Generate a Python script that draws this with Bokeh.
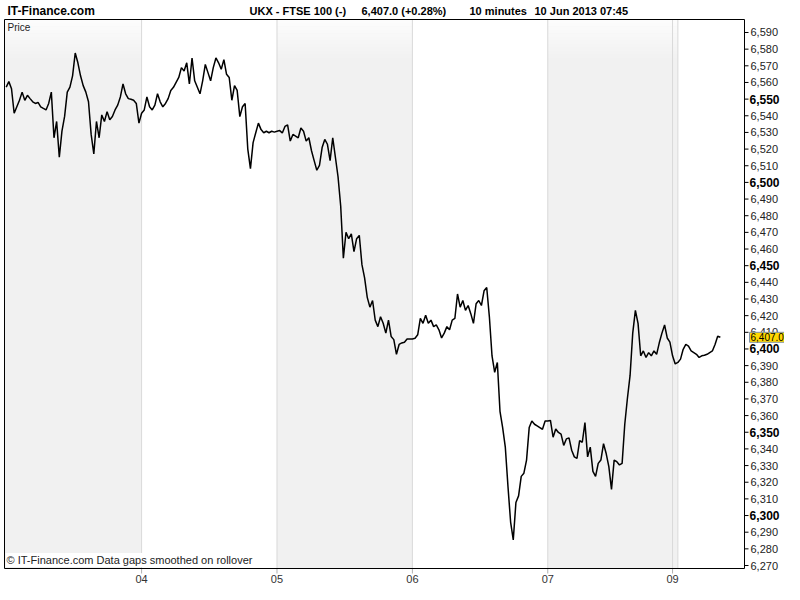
import numpy as np
from bokeh.plotting import figure
from bokeh.models import Range1d
from bokeh.embed import file_html
from bokeh.resources import INLINE
from bokeh.core.properties import value

# ---------------- data (10-minute closes, FTSE 100) ----------------
day_labels = ["03", "04", "05", "06", "07", "09", "10"]

day03 = [6557.2, 6560.5, 6556.2, 6541.5, 6545.4, 6549.3, 6554.2, 6549.3, 6552.3, 6550.3,
         6548.4, 6547.4, 6548.0, 6545.4, 6544.4, 6543.5, 6547.4, 6554.2, 6526.8, 6536.6,
         6515.1, 6530.8, 6539.6, 6554.2, 6557.2, 6564.0, 6577.7, 6571.8, 6564.0, 6558.1,
         6554.2, 6548.4, 6528.8, 6517.1, 6536.6, 6526.8, 6540.5, 6536.6, 6542.5, 6537.6,
         6539.6, 6543.5, 6546.4, 6551.3, 6559.1, 6553.2, 6550.3, 6549.9, 6549.3, 6547.4,
         6535.6]
day04 = [6541.5, 6543.5, 6551.3, 6545.4, 6543.5, 6546.4, 6553.2, 6548.4, 6545.4, 6547.4,
         6550.3, 6555.2, 6557.1, 6560.1, 6563.0, 6568.9, 6566.9, 6571.8, 6559.1, 6574.7,
         6561.0, 6557.1, 6553.2, 6561.0, 6570.8, 6565.9, 6561.0, 6568.9, 6574.7, 6571.8,
         6567.9, 6573.7, 6564.9, 6563.0, 6549.3, 6558.1, 6555.2, 6539.5, 6545.4, 6547.4,
         6520.0, 6508.3, 6523.9, 6529.8, 6535.6, 6531.7, 6529.8, 6530.7, 6529.8, 6530.7,
         6530.2]
day05 = [6530.7, 6531.1, 6529.7, 6533.6, 6534.6, 6524.8, 6528.8, 6527.8, 6526.8, 6532.7,
         6530.7, 6524.8, 6526.8, 6519.0, 6513.1, 6507.3, 6510.2, 6520.9, 6525.8, 6522.9,
         6513.1, 6526.8, 6515.1, 6503.3, 6485.7, 6454.5, 6470.1, 6466.2, 6469.1, 6458.4,
         6466.2, 6468.2, 6450.6, 6442.7, 6431.0, 6425.1, 6429.1, 6417.3, 6413.4, 6419.3,
         6415.4, 6409.5, 6417.3, 6407.5, 6405.6, 6396.8, 6402.7, 6403.6, 6404.0, 6406.0,
         6406.0]
day06 = [6406.0, 6406.4, 6408.5, 6418.3, 6415.4, 6420.3, 6415.4, 6417.3, 6413.4, 6414.4,
         6411.5, 6406.6, 6409.5, 6413.4, 6411.5, 6417.3, 6418.3, 6433.0, 6425.1, 6429.1,
         6423.2, 6426.1, 6421.2, 6415.4, 6427.1, 6429.1, 6426.1, 6434.9, 6436.9, 6419.3,
         6395.8, 6386.0, 6391.9, 6362.6, 6352.8, 6341.1, 6317.6, 6296.1, 6285.4, 6307.8,
         6311.8, 6323.5, 6325.4, 6333.3, 6352.8, 6356.7, 6354.8, 6353.8, 6352.8, 6351.8,
         6356.7]
day07 = [6356.8, 6357.1, 6347.0, 6351.9, 6349.9, 6348.9, 6342.1, 6346.0, 6346.6, 6339.2,
         6335.2, 6334.3, 6345.0, 6344.0, 6355.8, 6335.2, 6341.1, 6326.5, 6323.5, 6331.3,
         6333.3, 6343.1, 6337.2, 6329.4, 6315.7, 6333.3, 6332.3, 6330.4, 6331.3, 6354.8,
         6370.4, 6384.1, 6409.5, 6423.2, 6415.4, 6395.9, 6398.8, 6394.9, 6397.8, 6395.9,
         6398.8, 6396.8, 6403.7, 6409.5, 6414.4, 6406.6, 6404.1]
day09 = [6395.9, 6391.0]
day10 = [6391.9, 6393.9, 6399.8, 6402.7, 6401.7, 6398.8, 6397.8, 6396.8, 6394.9, 6395.9,
         6396.2, 6396.8, 6397.8, 6398.8, 6402.7, 6407.6, 6407.0]

shaded_days = ["03", "05", "07", "09"]
tick_days = ["04", "05", "06", "07", "09"]
y_ticks = list(range(6270, 6600, 10))
bold_ticks = [6300, 6350, 6400, 6450, 6500, 6550]
last_price = 6407.0

header_site = "IT-Finance.com"
header_parts = ["UKX - FTSE 100 (-)", "6,407.0 (+0.28%)", "10 minutes", "10 Jun 2013 07:45"]
footer_text = "\u00a9 IT-Finance.com  Data gaps smoothed on rollover"
panel_label = "Price"

# ---------------- layout (pixels on the canvas) ----------------
W, H = 784, 584
L_PX, R_PX, T_PX, B_PX = 4, 744, 19, 568          # plot box edges
X0, X1 = -0.64, 278.1                              # bar-index span of the plot box
Y0, Y1 = 6268.2, 6597.8                            # price span of the plot box

ppx = (R_PX - L_PX) / (X1 - X0)
ppy = (B_PX - T_PX) / (Y1 - Y0)
def dx(px):
    return px / ppx
def dy(px):
    return px / ppy

FONT = "'Liberation Sans', Arial, sans-serif"

p = figure(width=W, height=H,
           x_range=Range1d(X0 - dx(L_PX), X1 + dx(W - R_PX)),
           y_range=Range1d(Y0 - dy(H - B_PX), Y1 + dy(T_PX)),
           output_backend="svg", toolbar_location=None,
           x_axis_location=None, y_axis_location=None, min_border=0)
p.background_fill_color = "white"
p.border_fill_color = "white"
p.outline_line_color = None
p.xgrid.visible = False
p.ygrid.visible = False

# ---------------- series ----------------
days = [day03, day04, day05, day06, day07, day09, day10]
close = np.concatenate([np.array(d, dtype=float) for d in days])
bars = np.arange(len(close))
starts = [int(s) for s in np.cumsum([0] + [len(d) for d in days[:-1]])]
ends = starts[1:] + [len(close)]

# shaded day bands with a light fade at the top
band_left = [X0 if s == 0 else s for d, s in zip(day_labels, starts) if d in shaded_days]
band_right = [e for d, e in zip(day_labels, ends) if d in shaded_days]
p.quad(left=band_left, right=band_right, bottom=Y0, top=Y1,
       fill_color="#f1f1f1", line_color=None)
n_fade = 12
for k in range(n_fade):
    p.quad(left=band_left, right=band_right,
           top=Y1 - dy(3.5 * k), bottom=Y1 - dy(3.5 * (k + 1)),
           fill_color="white", fill_alpha=0.8 * (1 - k / n_fade), line_color=None)

# day boundary lines
bnd = starts[1:]
p.segment(x0=bnd, y0=[Y0] * len(bnd), x1=bnd, y1=[Y1] * len(bnd),
          line_color="#d9d9d9", line_width=1)

# x ticks and labels
tick_pos = [starts[day_labels.index(d)] for d in tick_days]
p.segment(x0=tick_pos, y0=[Y0] * len(tick_pos), x1=tick_pos,
          y1=[Y0 - dy(5)] * len(tick_pos), line_color="#b0b0b0", line_width=1)
p.text(x=tick_pos, y=[Y0 - dy(6)] * len(tick_pos), text=tick_days,
       text_font=value(FONT), text_font_size="11px", text_color="#333333",
       text_align="center", text_baseline="top")

# price line
p.line(bars, close, line_color="black", line_width=1.5)

# plot box
p.quad(left=[X0], right=[X1], bottom=[Y0], top=[Y1], fill_color=None,
       line_color="black", line_width=1)

# right axis ticks and labels
p.segment(x0=[X1] * len(y_ticks), y0=y_ticks, x1=[X1 + dx(4)] * len(y_ticks), y1=y_ticks,
          line_color="black", line_width=1)
reg = [t for t in y_ticks if t not in bold_ticks]
p.text(x=[X1 + dx(6)] * len(reg), y=reg, text=[f"{t:,}" for t in reg],
       text_font=value(FONT), text_font_size="11px", text_color="#222222",
       text_align="left", text_baseline="middle")
p.text(x=[X1 + dx(5)] * len(bold_ticks), y=bold_ticks, text=[f"{t:,}" for t in bold_ticks],
       text_font=value(FONT), text_font_size="12px", text_font_style="bold",
       text_color="black", text_align="left", text_baseline="middle")

# last price tag
p.text(x=[X1 + dx(5)], y=[last_price], text=[f"{last_price:,.1f}"],
       text_font=value(FONT), text_font_size="10px", text_color="black",
       text_align="left", text_baseline="middle",
       background_fill_color="#ffd800", border_line_color="#7f93a8", padding=1)

# header
p.text(x=[X0 + dx(3)], y=[Y1 + dy(9)], text=[header_site],
       text_font=value(FONT), text_font_size="12px", text_font_style="bold",
       text_color="black", text_align="left", text_baseline="middle")
header_x = [249, 361, 469, 534]
p.text(x=[X0 + dx(hx - L_PX) for hx in header_x], y=[Y1 + dy(9)] * len(header_parts),
       text=header_parts, text_font=value(FONT), text_font_size="11px",
       text_font_style="bold", text_color="black", text_align="left",
       text_baseline="middle")

# panel label and footer
p.text(x=[X0 + dx(3)], y=[Y1 - dy(2)], text=[panel_label],
       text_font=value(FONT), text_font_size="10px", text_color="#222222",
       text_align="left", text_baseline="top")
p.text(x=[X0 + dx(1)], y=[Y0 + dy(1.5)], text=[footer_text],
       text_font=value(FONT), text_font_size="11px", text_color="#222222",
       text_align="left", text_baseline="bottom",
       background_fill_color="white", padding=1)

open("out.html", "w").write(file_html(p, INLINE))
